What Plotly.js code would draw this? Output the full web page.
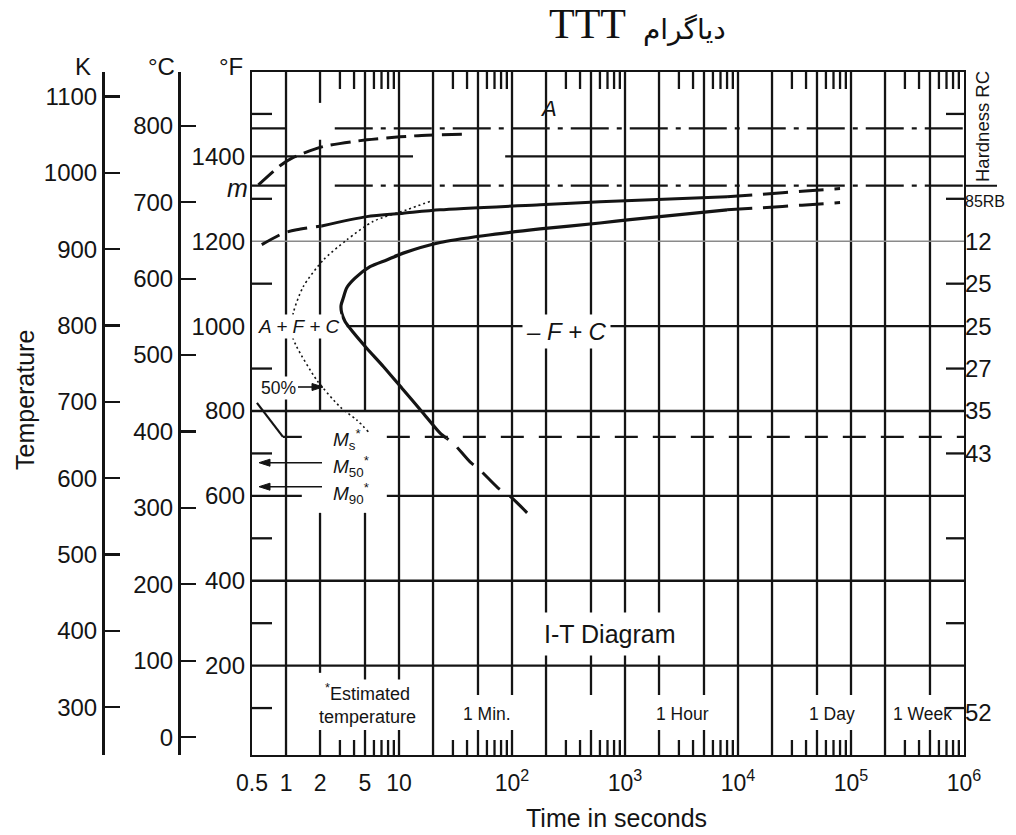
<!DOCTYPE html>
<html><head><meta charset="utf-8">
<script src="https://cdn.plot.ly/plotly-3.0.1.min.js"></script>
<style>html,body{margin:0;padding:0;background:#fff;}#chart{width:1016px;height:835px;}</style>
</head><body><div id="chart"></div>
<script>
// ---------------- data ----------------
// time in seconds, temperature in °F
const startSolidTime = [26.4, 23.1, 15.9, 10.9, 7.26, 5.18, 3.68, 3.33, 3.11, 3.07, 3.21, 3.44, 4.08, 5.54, 7.78, 10.9, 23.1, 55.7, 177, 601, 1107, 8000];
const startSolidF    = [736, 748, 799, 850, 905, 948, 995, 1011, 1031, 1049, 1066, 1090, 1113, 1140, 1156, 1172, 1197, 1213, 1229, 1243, 1251, 1274];
const startLowTime   = [136, 100, 75, 52, 42.5, 30, 26.4];
const startLowF      = [560, 595, 619, 661, 680, 725, 736];
const startEndTime   = [8000, 16600, 36800, 80000];
const startEndF      = [1274, 1279, 1285, 1291];

const upperLeftTime  = [0.61, 0.95, 1.24, 2.07];
const upperLeftF     = [1192, 1219, 1227, 1236];
const upperSolidTime = [2.07, 5.18, 10.9, 23.1, 177, 601, 8000];
const upperSolidF    = [1236, 1258, 1266, 1274, 1286, 1293, 1305];
const upperEndTime   = [8000, 16600, 36800, 80000];
const upperEndF      = [1305, 1311, 1318, 1324];

const a3CurveTime    = [0.57, 0.885, 1.15, 2.12, 5.2, 10.2, 17.7, 36];
const a3CurveF       = [1333, 1378, 1397, 1423, 1439, 1446, 1450, 1452];

const halfTime       = [5.35, 4.22, 3.0, 1.87, 1.24, 1.12, 1.16, 1.42, 2.14, 3.44, 5.93, 11.7, 18.8];
const halfF          = [751, 779, 810, 873, 952, 983, 1031, 1093, 1156, 1203, 1247, 1274, 1294];

const leftDiagTime   = [0.553, 0.94];
const leftDiagF      = [819, 739];

const ae3F = 1466, ae1F = 1331, msF = 739;
const ae3Solid = [0.5, 1], ae3Dash = [2.7, 1e6];
const msSegs = [[0.94, 1.38], [7.8, 1e6]];

// axes / ticks
const xTickVals  = [0.5, 1, 2, 5, 10, 100, 1e3, 1e4, 1e5, 1e6];
const xTickText  = ['0.5', '1', '2', '5', '10', '10<sup>2</sup>', '10<sup>3</sup>', '10<sup>4</sup>', '10<sup>5</sup>', '10<sup>6</sup>'];
const fTicks     = [200, 400, 600, 800, 1000, 1200, 1400];
const cTicks     = [0, 100, 200, 300, 400, 500, 600, 700, 800];
const kTicks     = [300, 400, 500, 600, 700, 800, 900, 1000, 1100];
const hardVals   = [1300, 1200, 1100, 1000, 900, 800, 700, 90];
const hardText   = ['<span style="font-size:16px">85RB</span>', '12', '25', '25', '27', '35', '43', '52'];
const borderTickF = [1500, 1300, 1100, 900, 700, 500, 300, 100];

const gridTimes    = [1, 2, 5, 10, 20, 50, 100, 200, 500, 1000, 2000, 5000, 1e4, 2e4, 5e4, 1e5, 2e5, 5e5];
const brokenAtBand = [2, 5, 10, 50, 100, 500, 2000, 5000, 5e4, 1e5, 5e5];
const minorDigits  = [3, 4, 6, 7, 8, 9];
const decades      = [1, 10, 100, 1e3, 1e4, 1e5];
const hGrid = [
  {F: 1400, segs: [[0.5, 13.3], [87, 1e6]]},
  {F: 1200, segs: [[0.5, 1e6]], thin: true},
  {F: 1000, segs: [[3.45, 1e6]]},
  {F: 800,  segs: [[0.5, 1e6]]},
  {F: 600,  segs: [[0.5, 1.38], [7.8, 1e6]]},
  {F: 400,  segs: [[0.5, 1e6]]},
  {F: 200,  segs: [[0.5, 1e6]]}
];

// ---------------- layout geometry ----------------
const W = 1016, H = 835, L = 252, R = 964, T = 72, B = 755;
const PH = B - T, PW = R - L;
const Fmin = -10.6, Fmax = 1598.8;
const Cmin = -23.2, Cmax = 870.3;
const Kmin = 237.5, Kmax = 1132;
const Fpp = (Fmax - Fmin) / PH;
const bandTopF = 131, bandTickPx = 25;
const px = x => x / W, py = y => (B - y) / PH;
const INK = '#141414';
const FONT = 'Liberation Sans, Arial, Helvetica, sans-serif';
const GW = 2.3;

const shapes = [];
function seg(x0, x1, y0, y1, o) {
  shapes.push(Object.assign({type: 'line', xref: 'x', yref: 'y', x0, x1, y0, y1, layer: 'below',
    line: {color: INK, width: GW}}, o || {}));
}
// vertical grid lines
gridTimes.forEach(t => {
  let segs;
  if (t === 2) segs = [[183, 560], [800, 1439], [1526, Fmax]];
  else if (t === 5) segs = [[bandTopF, 560], [800, Fmax]];
  else if (brokenAtBand.includes(t)) segs = [[bandTopF, Fmax]];
  else segs = [[Fmin, Fmax]];
  if (brokenAtBand.includes(t)) segs.push([Fmin, Fmin + bandTickPx * Fpp]);
  segs.forEach(s => seg(t, t, s[0], s[1]));
});
// horizontal grid lines
hGrid.forEach(g => g.segs.forEach(s => seg(s[0], s[1], g.F, g.F,
  g.thin ? {line: {color: '#8a8a8a', width: 1.5}} : {})));
// minor time ticks bottom & top
decades.forEach(d => minorDigits.forEach(m => {
  const t = d * m;
  shapes.push({type: 'line', xref: 'x', yref: 'y domain', x0: t, x1: t, y0: 0, y1: 15 / PH, layer: 'below', line: {color: INK, width: GW}});
  shapes.push({type: 'line', xref: 'x', yref: 'y domain', x0: t, x1: t, y0: 1 - 17 / PH, y1: 1, layer: 'below', line: {color: INK, width: GW}});
}));
// border ticks left & right
borderTickF.forEach(f => {
  shapes.push({type: 'line', xref: 'x domain', yref: 'y', x0: 0, x1: 20 / PW, y0: f, y1: f, layer: 'below', line: {color: INK, width: GW}});
  shapes.push({type: 'line', xref: 'x domain', yref: 'y', x0: 1 - 18 / PW, x1: 1, y0: f, y1: f, layer: 'below', line: {color: INK, width: GW}});
});
// Ae1 line continues beyond the frame
const ae1Paper = (ae1F - Fmin) / (Fmax - Fmin);
shapes.push({type: 'line', xref: 'paper', yref: 'paper', x0: px(R), x1: px(997), y0: ae1Paper, y1: ae1Paper, line: {color: INK, width: 2}});
// arrows to the left border (M50, M90)
[[462.7], [486.7]].forEach(a => shapes.push({type: 'line', xref: 'paper', yref: 'paper',
  x0: px(268), x1: px(322), y0: py(a[0]), y1: py(a[0]), line: {color: INK, width: 1.6}}));
[[462.7], [486.7]].forEach(a => shapes.push({type: 'path', xref: 'paper', yref: 'paper',
  path: `M ${px(259)} ${py(a[0])} L ${px(270)} ${py(a[0] - 3.5)} L ${px(270)} ${py(a[0] + 3.5)} Z`,
  fillcolor: INK, line: {color: INK, width: 1}}));
// arrow from "50%" to dotted curve
shapes.push({type: 'line', xref: 'paper', yref: 'paper', x0: px(298), x1: px(314), y0: py(387), y1: py(387), line: {color: INK, width: 1.6}});
shapes.push({type: 'path', xref: 'paper', yref: 'paper',
  path: `M ${px(323)} ${py(387)} L ${px(312)} ${py(383.5)} L ${px(312)} ${py(390.5)} Z`,
  fillcolor: INK, line: {color: INK, width: 1}});

// ---------------- traces ----------------
function tr(x, y, dash, width) {
  return {type: 'scatter', mode: 'lines', x, y, hoverinfo: 'skip', showlegend: false,
    line: {color: INK, width: width || 3, dash: dash || 'solid', shape: 'spline', smoothing: 0.7}};
}
const dashDot = '38px,8px,5px,8px';
const traces = [
  tr(ae3Solid, [ae3F, ae3F], 'solid', 2.2),
  tr(ae3Dash, [ae3F, ae3F], dashDot, 2.3),
  tr(ae3Solid, [ae1F, ae1F], 'solid', 2.2),
  tr(ae3Dash, [ae1F, ae1F], dashDot, 2.3),
  tr([msSegs[0][0], msSegs[0][1]], [msF, msF], 'solid', 2.2),
  tr([msSegs[1][0], msSegs[1][1]], [msF, msF], '23px,15px', 2.3),
  tr(leftDiagTime, leftDiagF, 'solid', 2.2),
  tr(a3CurveTime, a3CurveF, '20px,8px', 3),
  tr(upperLeftTime, upperLeftF, '20px,9px', 3),
  tr(upperSolidTime, upperSolidF, 'solid', 3),
  tr(upperEndTime, upperEndF, '25px,11px', 3),
  tr(startLowTime, startLowF, '24px,12px', 3),
  tr(startSolidTime, startSolidF, 'solid', 3.2),
  tr(startEndTime, startEndF, '25px,11px', 3),
  tr(halfTime, halfF, '2px,3px', 1.6),
  {type: 'scatter', x: [], y: [], yaxis: 'y2', showlegend: false},
  {type: 'scatter', x: [], y: [], yaxis: 'y3', showlegend: false},
  {type: 'scatter', x: [], y: [], yaxis: 'y4', showlegend: false}
];

// ---------------- annotations ----------------
const ann = [];
function lab(x, y, text, size, o) {
  ann.push(Object.assign({xref: 'paper', yref: 'paper', x: px(x), y: py(y), text, showarrow: false,
    xanchor: 'center', yanchor: 'middle', font: {family: FONT, size: size, color: INK}}, o || {}));
}
const white = {bgcolor: '#ffffff'};
lab(587, 24, 'TTT', 42, {font: {family: 'Liberation Serif, Times New Roman, serif', size: 42, color: '#111'}});
lab(684, 29, 'دیاگرام', 28, {font: {family: 'DejaVu Sans, sans-serif', size: 28, color: '#111'}});
lab(83, 66, 'K', 24);
lab(161, 67, '°C', 24);
lab(231, 67, '°F', 24);
lab(25, 400, 'Temperature', 25, {textangle: -90});
lab(616, 818, 'Time in seconds', 25);
lab(983, 127, 'Hardness RC', 18.5, {textangle: -90});
lab(237, 188, '<i>m</i>', 25);
lab(548, 108, '<i>A</i>', 22);
lab(299, 326, '<i>A + F + C</i>', 19, Object.assign({borderpad: 1}, white));
lab(566, 331, '<i>– F + C</i>', 24, Object.assign({borderpad: 3}, white));
lab(278, 388, '50%', 17.5, Object.assign({borderpad: 1}, white));
lab(347, 439, '<i>M</i><sub>s</sub><sup>*</sup>', 19, Object.assign({borderpad: 1}, white));
lab(351, 466, '<i>M</i><sub>50</sub><sup>*</sup>', 19, Object.assign({borderpad: 1}, white));
lab(351, 493, '<i>M</i><sub>90</sub><sup>*</sup>', 19, Object.assign({borderpad: 1}, white));
lab(610, 634, 'I-T Diagram', 25, Object.assign({borderpad: 7}, white));
lab(367, 704, '<sup>*</sup>Estimated<br>temperature', 18, Object.assign({borderpad: 1}, white));
lab(487, 714, '1 Min.', 17.5);
lab(682, 714, '1 Hour', 17.5);
lab(832, 714, '1 Day', 17.5);
lab(922, 714, '1 Week', 17.5);

// ---------------- layout ----------------
const tickFont = {family: FONT, size: 24, color: INK};
const layout = {
  width: W, height: H,
  margin: {l: 0, r: 0, t: T, b: H - B, pad: 0},
  paper_bgcolor: '#fff', plot_bgcolor: '#fff',
  showlegend: false, hovermode: false,
  xaxis: {type: 'log', domain: [L / W, R / W], range: [Math.log10(0.5), 6], tickmode: 'array',
    tickvals: xTickVals, ticktext: xTickText, ticks: '', showgrid: false, zeroline: false,
    showline: true, mirror: true, linecolor: INK, linewidth: 2.2, tickfont: {family: FONT, size: 23, color: INK},
    ticklabelstandoff: 6, automargin: false},
  yaxis: {range: [Fmin, Fmax], tickmode: 'array', tickvals: fTicks, ticks: '', showgrid: false, zeroline: false,
    showline: true, mirror: true, linecolor: INK, linewidth: 2.2, tickfont: tickFont, automargin: false},
  yaxis2: {overlaying: 'y', anchor: 'free', position: 179 / W, side: 'left', range: [Cmin, Cmax],
    tickmode: 'array', tickvals: cTicks, ticks: 'inside', ticklen: 15, tickwidth: 2.2, tickcolor: INK,
    showline: true, linecolor: INK, linewidth: 2.6, showgrid: false, zeroline: false, tickfont: tickFont, automargin: false},
  yaxis3: {overlaying: 'y', anchor: 'free', position: 103 / W, side: 'left', range: [Kmin, Kmax],
    tickmode: 'array', tickvals: kTicks, ticks: 'inside', ticklen: 15, tickwidth: 2.2, tickcolor: INK,
    showline: true, linecolor: INK, linewidth: 2.6, showgrid: false, zeroline: false, tickfont: tickFont, automargin: false},
  yaxis4: {overlaying: 'y', anchor: 'x', side: 'right', range: [Fmin, Fmax], tickmode: 'array',
    tickvals: hardVals, ticktext: hardText, ticks: '', showline: false, showgrid: false, zeroline: false,
    tickfont: tickFont, automargin: false},
  shapes, annotations: ann
};
Plotly.newPlot('chart', traces, layout, {displayModeBar: false, staticPlot: true});
</script>
</body></html>
